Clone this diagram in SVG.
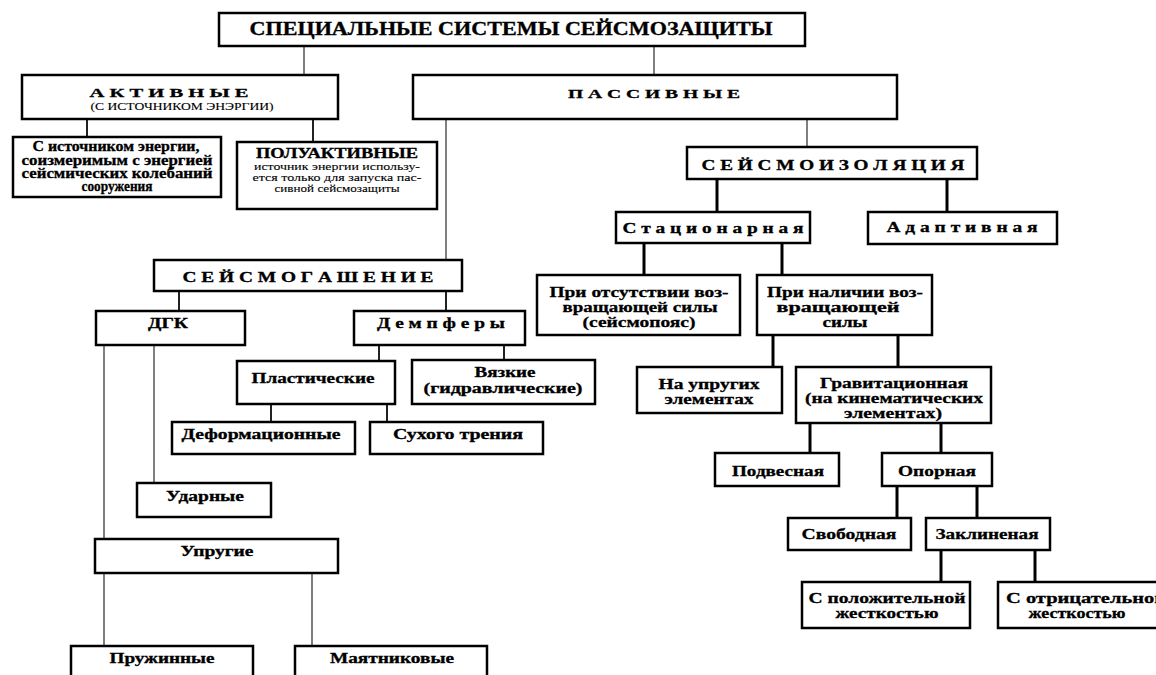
<svg xmlns="http://www.w3.org/2000/svg" width="1156" height="675" viewBox="0 0 1156 675">
<style>
.box{fill:#fff;stroke:#000;stroke-width:2.5}
.thin{stroke:#555;stroke-width:1.5;fill:none}
.mid{stroke:#222;stroke-width:2;fill:none}
.thick{stroke:#000;stroke-width:3;fill:none}
text{font-family:"Liberation Serif","Times New Roman",serif;font-weight:bold;text-anchor:middle;fill:#000;stroke:#000;stroke-width:0.3}
.t12{font-size:13px}
.t13{font-size:14px}
.t14{font-size:15px}
.sm{font-size:10px;font-weight:normal;stroke-width:0.1}
</style>
<rect width="1156" height="675" fill="#fff"/>
<g id="connectors">
<line class="thin" x1="304" y1="46" x2="304" y2="75"/>
<line class="thin" x1="654" y1="46" x2="654" y2="75"/>
<line class="mid" x1="87" y1="119" x2="87" y2="137"/>
<line class="mid" x1="313" y1="119" x2="313" y2="142"/>
<line class="thin" x1="446" y1="119" x2="446" y2="260"/>
<line class="thin" x1="807" y1="119" x2="807" y2="147"/>
<line class="thick" x1="717" y1="179" x2="717" y2="212"/>
<line class="thick" x1="947" y1="179" x2="947" y2="212"/>
<line class="thick" x1="644" y1="243" x2="644" y2="275"/>
<line class="thick" x1="782" y1="243" x2="782" y2="275"/>
<line class="thick" x1="773" y1="335" x2="773" y2="367"/>
<line class="thick" x1="898" y1="335" x2="898" y2="367"/>
<line class="thick" x1="810" y1="423" x2="810" y2="453"/>
<line class="thick" x1="941" y1="423" x2="941" y2="453"/>
<line class="thick" x1="897" y1="486" x2="897" y2="518"/>
<line class="thick" x1="977" y1="486" x2="977" y2="518"/>
<line class="thick" x1="941" y1="550" x2="941" y2="582"/>
<line class="thick" x1="1035" y1="550" x2="1035" y2="582"/>
<line class="mid" x1="179" y1="291" x2="179" y2="311"/>
<line class="mid" x1="446" y1="291" x2="446" y2="311"/>
<line class="mid" x1="379" y1="345" x2="379" y2="361"/>
<line class="mid" x1="504" y1="345" x2="504" y2="360"/>
<line class="mid" x1="271" y1="404" x2="271" y2="422"/>
<line class="mid" x1="387" y1="404" x2="387" y2="422"/>
<line class="thin" x1="104" y1="345" x2="104" y2="539"/>
<line class="thin" x1="154" y1="345" x2="154" y2="483"/>
<line class="thin" x1="104" y1="573" x2="104" y2="646"/>
<line class="thin" x1="312" y1="573" x2="312" y2="646"/>
</g>
<g id="n-title">
<rect class="box" x="219" y="13" width="586" height="33"/>
<text x="511" y="35" style="font-size:18px" textLength="523" lengthAdjust="spacingAndGlyphs">СПЕЦИАЛЬНЫЕ СИСТЕМЫ СЕЙСМОЗАЩИТЫ</text>
</g>
<g id="n-active">
<rect class="box" x="22" y="75" width="316" height="44"/>
<text class="t12" x="169" y="97" textLength="159" lengthAdjust="spacingAndGlyphs">А К Т И В Н Ы Е</text>
<text class="sm" x="182" y="110" textLength="183" lengthAdjust="spacingAndGlyphs">(С ИСТОЧНИКОМ ЭНЭРГИИ)</text>
</g>
<g id="n-passive">
<rect class="box" x="413" y="75" width="484" height="44"/>
<text class="t12" x="654" y="98" textLength="172" lengthAdjust="spacingAndGlyphs">П А С С И В Н Ы Е</text>
</g>
<g id="n-source">
<rect class="box" x="13" y="137" width="208" height="60"/>
<text class="t13" x="116" y="151" textLength="167" lengthAdjust="spacingAndGlyphs">С источником энергии,</text>
<text class="t13" x="117" y="165" textLength="191" lengthAdjust="spacingAndGlyphs">соизмеримым с энергией</text>
<text class="t13" x="117" y="178" textLength="191" lengthAdjust="spacingAndGlyphs">сейсмических колебаний</text>
<text class="t13" x="117" y="191" textLength="71" lengthAdjust="spacingAndGlyphs">сооружения</text>
</g>
<g id="n-semiactive">
<rect class="box" x="237" y="142" width="200" height="67"/>
<text class="t13" x="337" y="158" textLength="162" lengthAdjust="spacingAndGlyphs">ПОЛУАКТИВНЫЕ</text>
<text class="sm" x="337" y="170" textLength="166" lengthAdjust="spacingAndGlyphs">источник энергии использу-</text>
<text class="sm" x="337" y="181" textLength="169" lengthAdjust="spacingAndGlyphs">ется только для запуска пас-</text>
<text class="sm" x="337" y="192" textLength="125" lengthAdjust="spacingAndGlyphs">сивной сейсмозащиты</text>
</g>
<g id="n-isolation">
<rect class="box" x="687" y="147" width="290" height="32"/>
<text class="t13" x="833" y="170" textLength="263" lengthAdjust="spacingAndGlyphs">С Е Й С М О И З О Л Я Ц И Я</text>
</g>
<g id="n-stationary">
<rect class="box" x="616" y="212" width="194" height="31"/>
<text class="t13" x="713" y="233" textLength="181" lengthAdjust="spacingAndGlyphs">С т а ц и о н а р н а я</text>
</g>
<g id="n-adaptive">
<rect class="box" x="868" y="212" width="189" height="32"/>
<text class="t13" x="962" y="232" textLength="151" lengthAdjust="spacingAndGlyphs">А д а п т и в н а я</text>
</g>
<g id="n-noforce">
<rect class="box" x="537" y="275" width="203" height="60"/>
<text class="t14" x="639" y="297" textLength="179" lengthAdjust="spacingAndGlyphs">При отсутствии воз-</text>
<text class="t14" x="640" y="312" textLength="155" lengthAdjust="spacingAndGlyphs">вращающей силы</text>
<text class="t14" x="639" y="327" textLength="113" lengthAdjust="spacingAndGlyphs">(сейсмопояс)</text>
</g>
<g id="n-force">
<rect class="box" x="757" y="275" width="175" height="60"/>
<text class="t14" x="845" y="297" textLength="156" lengthAdjust="spacingAndGlyphs">При наличии воз-</text>
<text class="t14" x="838" y="312" textLength="123" lengthAdjust="spacingAndGlyphs">вращающей</text>
<text class="t14" x="845" y="327" textLength="45" lengthAdjust="spacingAndGlyphs">силы</text>
</g>
<g id="n-elastic-el">
<rect class="box" x="637" y="367" width="145" height="46"/>
<text class="t14" x="709" y="389" textLength="101" lengthAdjust="spacingAndGlyphs">На упругих</text>
<text class="t14" x="709" y="404" textLength="89" lengthAdjust="spacingAndGlyphs">элементах</text>
</g>
<g id="n-gravity">
<rect class="box" x="796" y="367" width="195" height="56"/>
<text class="t14" x="894" y="388" textLength="148" lengthAdjust="spacingAndGlyphs">Гравитационная</text>
<text class="t14" x="894" y="403" textLength="178" lengthAdjust="spacingAndGlyphs">(на кинематических</text>
<text class="t14" x="893" y="418" textLength="98" lengthAdjust="spacingAndGlyphs">элементах)</text>
</g>
<g id="n-suspended">
<rect class="box" x="715" y="453" width="124" height="33"/>
<text class="t14" x="778" y="476" textLength="92" lengthAdjust="spacingAndGlyphs">Подвесная</text>
</g>
<g id="n-support">
<rect class="box" x="882" y="453" width="110" height="33"/>
<text class="t14" x="937" y="476" textLength="78" lengthAdjust="spacingAndGlyphs">Опорная</text>
</g>
<g id="n-free">
<rect class="box" x="788" y="518" width="123" height="32"/>
<text class="t14" x="849" y="539" textLength="95" lengthAdjust="spacingAndGlyphs">Свободная</text>
</g>
<g id="n-wedged">
<rect class="box" x="926" y="518" width="124" height="32"/>
<text class="t14" x="987" y="539" textLength="103" lengthAdjust="spacingAndGlyphs">Заклиненая</text>
</g>
<g id="n-positive">
<rect class="box" x="802" y="582" width="168" height="46"/>
<text class="t14" x="887" y="603" textLength="157" lengthAdjust="spacingAndGlyphs">С положительной</text>
<text class="t14" x="887" y="618" textLength="103" lengthAdjust="spacingAndGlyphs">жесткостью</text>
</g>
<g id="n-negative">
<rect class="box" x="998" y="582" width="175" height="46"/>
<text class="t14" x="1006" y="603" style="text-anchor:start" textLength="160" lengthAdjust="spacingAndGlyphs">С отрицательной</text>
<text class="t14" x="1077" y="618" textLength="97" lengthAdjust="spacingAndGlyphs">жесткостью</text>
</g>
<g id="n-damping">
<rect class="box" x="154" y="260" width="308" height="31"/>
<text class="t13" x="308" y="282" textLength="251" lengthAdjust="spacingAndGlyphs">С Е Й С М О Г А Ш Е Н И Е</text>
</g>
<g id="n-dgk">
<rect class="box" x="96" y="311" width="149" height="34"/>
<text class="t13" x="168" y="328" textLength="40" lengthAdjust="spacingAndGlyphs">ДГК</text>
</g>
<g id="n-dampers">
<rect class="box" x="354" y="311" width="171" height="34"/>
<text class="t13" x="441" y="328" textLength="128" lengthAdjust="spacingAndGlyphs">Д е м п ф е р ы</text>
</g>
<g id="n-plastic">
<rect class="box" x="237" y="361" width="158" height="43"/>
<text class="t13" x="313" y="383" textLength="123" lengthAdjust="spacingAndGlyphs">Пластические</text>
</g>
<g id="n-viscous">
<rect class="box" x="412" y="360" width="183" height="44"/>
<text class="t13" x="505" y="377" textLength="61" lengthAdjust="spacingAndGlyphs">Вязкие</text>
<text class="t13" x="503" y="393" textLength="159" lengthAdjust="spacingAndGlyphs">(гидравлические)</text>
</g>
<g id="n-deform">
<rect class="box" x="172" y="422" width="183" height="32"/>
<text class="t13" x="261" y="439" textLength="159" lengthAdjust="spacingAndGlyphs">Деформационные</text>
</g>
<g id="n-friction">
<rect class="box" x="370" y="422" width="173" height="32"/>
<text class="t13" x="458" y="439" textLength="130" lengthAdjust="spacingAndGlyphs">Сухого трения</text>
</g>
<g id="n-impact">
<rect class="box" x="137" y="483" width="134" height="34"/>
<text class="t13" x="205" y="501" textLength="78" lengthAdjust="spacingAndGlyphs">Ударные</text>
</g>
<g id="n-elastic">
<rect class="box" x="95" y="539" width="243" height="34"/>
<text class="t13" x="217" y="556" textLength="73" lengthAdjust="spacingAndGlyphs">Упругие</text>
</g>
<g id="n-spring">
<rect class="box" x="71" y="646" width="182" height="45"/>
<text class="t13" x="162" y="663" textLength="105" lengthAdjust="spacingAndGlyphs">Пружинные</text>
</g>
<g id="n-pendulum">
<rect class="box" x="295" y="646" width="192" height="45"/>
<text class="t13" x="392" y="663" textLength="124" lengthAdjust="spacingAndGlyphs">Маятниковые</text>
</g>
</svg>
